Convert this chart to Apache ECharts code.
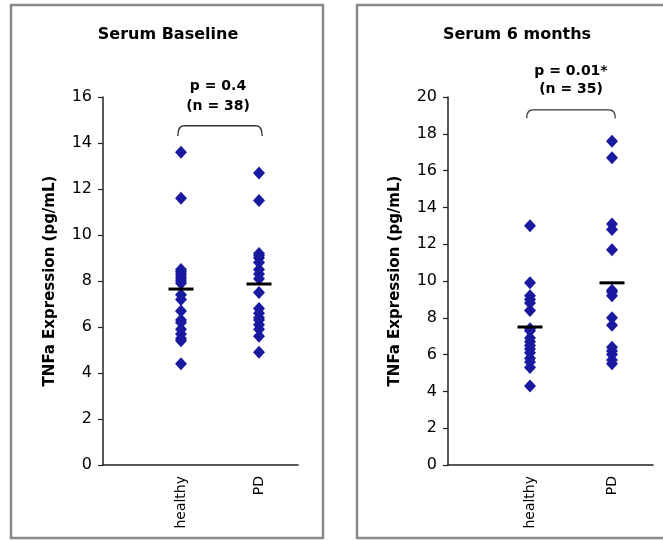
<!DOCTYPE html>
<html>
<head>
<meta charset="utf-8">
<script src="https://cdn.jsdelivr.net/npm/echarts@6/dist/echarts.min.js"></script>
<style>html,body{margin:0;padding:0;background:#fff}#c{width:663px;height:540px}</style>
</head>
<body>
<div id="c"></div>
<script>
var groups = ['healthy', 'PD'];
var panelTitles = ['Serum Baseline', 'Serum 6 months'];
var pLabels = ['p = 0.4', 'p = 0.01*'];
var nLabels = ['(n = 38)', '(n = 35)'];
var yTitle = 'TNFa Expression (pg/mL)';
var yMax = [16, 20];

var healthyBaseline = [13.6, 11.6, 8.5, 8.4, 8.3, 8.2, 8.1, 8.0, 7.9, 7.4, 7.2, 6.7, 6.3, 6.2, 5.9, 5.7, 5.5, 5.4, 4.4];
var pdBaseline = [12.7, 11.5, 9.2, 9.1, 9.0, 8.8, 8.5, 8.3, 8.1, 7.5, 6.8, 6.6, 6.4, 6.3, 6.1, 5.9, 5.6, 4.9];
var healthy6m = [13.0, 9.9, 9.2, 9.0, 8.8, 8.4, 7.4, 7.3, 6.9, 6.7, 6.5, 6.3, 6.1, 5.8, 5.6, 5.3, 4.3];
var pd6m = [17.6, 16.7, 13.1, 12.8, 11.7, 9.5, 9.4, 9.2, 8.0, 7.6, 6.4, 6.2, 6.0, 5.7, 5.5];
var meanBaseline = [7.65, 7.87];
var mean6m = [7.5, 9.9];
var bracketTop = [14.75, 19.3];
var bracketDrop = [0.45, 0.45];

var FONT = '"DejaVu Sans", Verdana, sans-serif';
var DOT = '#1a1aa0';
var AX = '#222';

function pts(x, arr) { return arr.map(function (v) { return [x, v]; }); }

function gridAxes(i) {
  return {
    x: {
      type: 'value', gridIndex: i, min: 0, max: 2.5, interval: 1,
      splitLine: { show: false },
      axisTick: { show: false },
      axisLine: { lineStyle: { color: AX, width: 1.5 } },
      axisLabel: {
        rotate: 90, showMaxLabel: false, color: '#000', fontFamily: FONT, fontSize: 14, margin: 11,
        formatter: function (v) { return (v === 1 || v === 2) ? groups[v - 1] : ''; }
      }
    },
    y: {
      type: 'value', gridIndex: i, min: 0, max: yMax[i], interval: 2,
      splitLine: { show: false },
      axisLine: { show: true, lineStyle: { color: AX, width: 1.5 } },
      axisTick: { show: true, length: 5, lineStyle: { color: AX, width: 1.2 } },
      axisLabel: { color: '#000', fontFamily: FONT, fontSize: 16, margin: 11 },
      name: yTitle, nameLocation: 'middle', nameRotate: 90,
      nameGap: 45,
      nameTextStyle: { color: '#000', fontFamily: FONT, fontSize: 15, fontWeight: 'bold' }
    }
  };
}

var a0 = gridAxes(0), a1 = gridAxes(1);

function scatter(i, x, arr) {
  return {
    type: 'scatter', xAxisIndex: i, yAxisIndex: i, data: pts(x, arr),
    symbol: 'diamond', symbolSize: [12, 13], itemStyle: { color: DOT, opacity: 1 }, z: 3
  };
}
function means(i, arr) {
  return {
    type: 'scatter', xAxisIndex: i, yAxisIndex: i,
    data: arr.map(function (v, k) { return [k + 1, v]; }),
    symbol: 'rect', symbolSize: [25, 3], itemStyle: { color: '#000', opacity: 1 }, z: 4
  };
}
function bracket(i) {
  return {
    type: 'custom', xAxisIndex: i, yAxisIndex: i, silent: true,
    data: [[0.96, 2.04, bracketTop[i], bracketTop[i] - bracketDrop[i]]],
    renderItem: function (params, api) {
      var pL = api.coord([api.value(0), api.value(3)]);
      var pR = api.coord([api.value(1), api.value(3)]);
      var tL = api.coord([api.value(0), api.value(2)]);
      var tR = api.coord([api.value(1), api.value(2)]);
      var r = 6;
      var st = { stroke: '#333', lineWidth: 1.3, fill: null };
      return {
        type: 'group', children: [
          { type: 'bezierCurve', shape: { x1: pL[0], y1: pL[1], x2: tL[0] + r, y2: tL[1], cpx1: tL[0], cpy1: tL[1] }, style: st },
          { type: 'line', shape: { x1: tL[0] + r, y1: tL[1], x2: tR[0] - r, y2: tR[1] }, style: st },
          { type: 'bezierCurve', shape: { x1: tR[0] - r, y1: tR[1], x2: pR[0], y2: pR[1], cpx1: tR[0], cpy1: tR[1] }, style: st }
        ]
      };
    }
  };
}

function T(x, y, s, size) {
  return { type: 'text', x: x, y: y, z: 10, style: { text: s, fill: '#000', font: 'bold ' + size + 'px ' + FONT, textAlign: 'center', textVerticalAlign: 'middle' } };
}

var chart = echarts.init(document.getElementById('c'), null, { renderer: 'canvas' });
chart.setOption({
  backgroundColor: '#fff',
  animation: false,
  grid: [
    { left: 103, right: 365, top: 97, bottom: 75 },
    { left: 448, right: 10, top: 97, bottom: 75 }
  ],
  xAxis: [a0.x, a1.x],
  yAxis: [a0.y, a1.y],
  series: [
    scatter(0, 1, healthyBaseline), scatter(0, 2, pdBaseline), means(0, meanBaseline), bracket(0),
    scatter(1, 1, healthy6m), scatter(1, 2, pd6m), means(1, mean6m), bracket(1)
  ],
  graphic: [
    { type: 'rect', shape: { x: 11, y: 5, width: 312, height: 533 }, style: { fill: null, stroke: '#888', lineWidth: 2.5 }, z: 0 },
    { type: 'rect', shape: { x: 357, y: 5, width: 320, height: 533 }, style: { fill: null, stroke: '#888', lineWidth: 2.5 }, z: 0 },
    T(168, 35, panelTitles[0], 16),
    T(517, 35, panelTitles[1], 16),
    T(218, 86, pLabels[0], 14),
    T(218, 106, nLabels[0], 14),
    T(571, 71, pLabels[1], 14),
    T(571, 89, nLabels[1], 14)
  ]
});
</script>
</body>
</html>
